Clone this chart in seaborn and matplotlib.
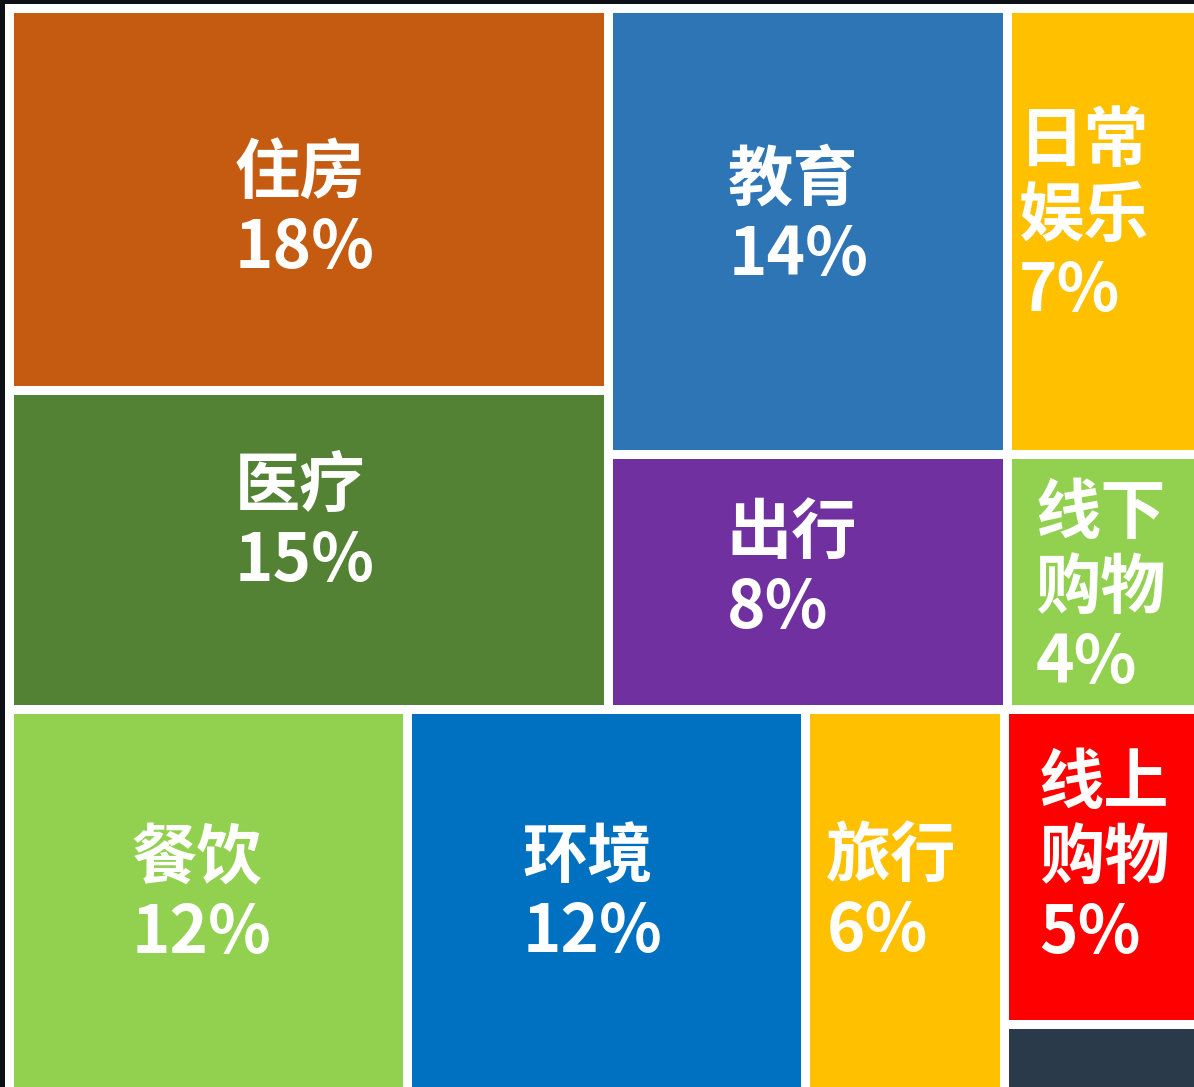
import matplotlib
matplotlib.use("Agg")
import matplotlib.pyplot as plt
from matplotlib.patches import Rectangle
import seaborn as sns

# ---- data ----
categories = ["住房", "医疗", "教育", "日常娱乐", "出行", "线下购物",
              "餐饮", "环境", "旅行", "线上购物", "其他"]
shares = [18, 15, 14, 7, 8, 4, 12, 12, 6, 5, 1.1]
labels = ["18%", "15%", "14%", "7%", "8%", "4%", "12%", "12%", "6%", "5%", ""]
tile_colors = ["#C55A11", "#548235", "#2E75B6", "#FFC000", "#7030A0", "#92D050",
               "#92D050", "#0070C0", "#FFC000", "#FF0000", "#2A3A4A"]

# ---- style / layout ----
sns.set_theme(style="white")
plt.rcParams["font.family"] = ["Noto Sans CJK SC", "DejaVu Sans"]
palette = sns.color_palette(tile_colors)

# label nudges (pixels) relative to tile centre
label_nudge = [(-3, 12), (-3, -26), (-9, -13), (-23, -14), (-15, -11), (-6, 7),
               (-6, -5), (-13, -6), (-13, -7), (-1, -8), (0, 0)]

W, H = 1194, 1087
fig = plt.figure(figsize=(W / 100, H / 100), dpi=100)
fig.patch.set_facecolor("#0D1117")
ax = fig.add_axes([0, 0, 1, 1])
ax.set_xlim(0, W)
ax.set_ylim(H, 0)
ax.axis("off")

# white frame
ax.add_patch(Rectangle((7, 5), W + 20, H + 20, facecolor="white", edgecolor="none", zorder=0))

# nested treemap structure (indices into the data lists)
structure = ("v", [
    ("h", [("v", [0, 1]),
           ("v", [("h", [2, 3]), ("h", [4, 5])])]),
    ("h", [6, 7, 8, ("v", [9, 10])]),
])


def node_size(node):
    if isinstance(node, int):
        return shares[node]
    return sum(node_size(c) for c in node[1])


rects = {}


def layout(node, x, y, w, h):
    if isinstance(node, int):
        rects[node] = (x, y, w, h)
        return
    kind, children = node
    total = node_size(node)
    pos = 0.0
    for c in children:
        frac = node_size(c) / total
        if kind == "h":
            layout(c, x + pos * w, y, w * frac, h)
        else:
            layout(c, x, y + pos * h, w, h * frac)
        pos += frac


x0, y0, x1, y1 = 8.5, 7.5, 1206.5, 1093
layout(structure, x0, y0, x1 - x0, y1 - y0)

edge_lw = 9 * 72 / 100
for i, (x, y, w, h) in rects.items():
    ax.add_patch(Rectangle((x, y), w, h, facecolor=palette[i], edgecolor="white",
                           linewidth=edge_lw, zorder=1))
    if not labels[i]:
        continue
    name = categories[i]
    if w < 250 and len(name) > 2:
        name = "\n".join(name[k:k + 2] for k in range(0, len(name), 2))
    dx, dy = label_nudge[i]
    cx = x + w / 2 + dx
    cy = y + h / 2 + dy
    ax.text(cx, cy, f"{name}\n{labels[i]}", ha="center", va="center",
            multialignment="left", color="white", fontsize=47,
            fontweight="bold", linespacing=1.15, zorder=3)

fig.savefig("out.png", dpi=100, facecolor=fig.get_facecolor())
